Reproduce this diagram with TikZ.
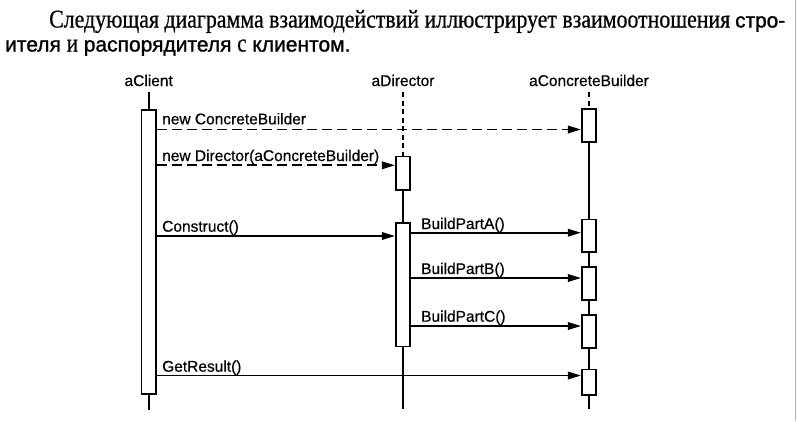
\documentclass[tikz,border=0pt]{standalone}
\usepackage{graphicx}
\usepackage{fontspec}
\setmainfont{Liberation Serif}[FakeBold=0.6]
\newfontfamily\sansf{Liberation Sans}[FakeBold=0.5]
\newfontfamily\sansh{Liberation Sans}[FakeBold=1.2]
\usetikzlibrary{arrows.meta}
\tikzset{
  lbl/.style={font=\sansf\fontsize{15.5pt}{18pt}\selectfont, inner sep=0pt, anchor=base west},
  ttl/.style={font=\sansf\fontsize{15.5pt}{18pt}\selectfont, inner sep=0pt, anchor=base},
  hdr/.style={inner sep=0pt, anchor=base west},
  act/.style={draw, fill=white, line width=1.6pt, minimum width=14.5pt, inner sep=0pt, anchor=north},
  life/.style={line width=2pt},
  dlife/.style={line width=2pt, dash pattern=on 5pt off 3.5pt},
  msg/.style={line width=1.7pt, -{Triangle[length=13pt,width=7.5pt]}},
  dmsg/.style={msg, dash pattern=on 10pt off 5pt},
}
\newcommand{\hsans}{\sansh\fontsize{21pt}{24pt}\selectfont}
\newcommand{\hserif}{\rmfamily\fontsize{25.5pt}{28pt}\selectfont}
\begin{document}
\begin{tikzpicture}[x=1pt,y=-1pt]
\useasboundingbox[fill=white] (0,0) rectangle (797,421);

% header text
\node[hdr] (h1) at (49,27.5) {\hserif\resizebox{681pt}{\height}{Следующая диаграмма взаимодействий иллюстрирует взаимоотношения}};
\node[hdr] (h2) at (735,27.5) {\resizebox{50pt}{\height}{\hsans стро-}};
\node[hdr] (h3) at (5,51.5) {\hsans ителя {\hserif\scalebox{0.82}[1]{и}} распорядителя {\hserif\scalebox{0.82}[1]{с}} клиентом.};

% object titles
\node[ttl] (tc) at (148.7,86) {aClient};
\node[ttl] (td) at (403,86) {aDirector};
\node[ttl] (tb) at (589,86) {aConcreteBuilder};

% lifeline ends
\coordinate (ctop) at (148.7,92);
\coordinate (cbot) at (148.7,410);
\coordinate (dtop) at (403,92);
\coordinate (dbot) at (403,409);
\coordinate (btop) at (589,92.3);
\coordinate (bbot) at (589,409);

% lifelines behind boxes
\draw[life] (ctop) -- (cbot);
\draw[life] (bbot) -- (589,141);

% activation boxes
\node[act, minimum height=284pt] (cbox) at (148.7,109.3) {};
\node[act, minimum height=33.6pt] (d1) at (403,155.7) {};
\node[act, minimum height=123.7pt] (d2) at (403,222) {};
\node[act, minimum height=33pt] (b0) at (589,108.3) {};
\node[act, minimum height=32.6pt] (bA) at (589,218.7) {};
\node[act, minimum height=33pt] (bB) at (589,266) {};
\node[act, minimum height=33.3pt] (bC) at (589,314) {};
\node[act, minimum height=25.6pt] (bD) at (589,368.7) {};

\draw[dlife] (dtop) -- (d1.north);
\draw[life] (d1.south) -- (d2.north);
\draw[life] (d2.south) -- (dbot);
\draw[dlife] (btop) -- (b0.north);

% message heights
\coordinate (m1) at (0,129.5);
\coordinate (m2) at (0,165.3);
\coordinate (m3) at (0,236);
\coordinate (m4) at (0,232.7);
\coordinate (m5) at (0,278);
\coordinate (m6) at (0,326);
\coordinate (m7) at (0,375.5);

% messages
\draw[dmsg] (cbox.east |- m1) -- (b0.west |- m1);
\draw[dmsg] (cbox.east |- m2) -- (d1.west |- m2);
\draw[msg] (cbox.east |- m3) -- (d2.west |- m3);
\draw[msg] (d2.east |- m4) -- (bA.west |- m4);
\draw[msg] (d2.east |- m5) -- (bB.west |- m5);
\draw[msg] (d2.east |- m6) -- (bC.west |- m6);
\draw[msg] (cbox.east |- m7) -- (bD.west |- m7);

% message labels
\node[lbl] (l1) at (162,124.3) {new ConcreteBuilder};
\node[lbl] (l2) at (162,161) {new Director(aConcreteBuilder)};
\node[lbl] (l3) at (162,231.7) {Construct()};
\node[lbl] (l4) at (421,229) {BuildPartA()};
\node[lbl] (l5) at (421,274) {BuildPartB()};
\node[lbl] (l6) at (421,321.7) {BuildPartC()};
\node[lbl] (l7) at (162,371.7) {GetResult()};

% scan edge at right
\draw[gray!60, line width=1.5pt] (795.5,0) -- (795.5,421);
\end{tikzpicture}
\end{document}
